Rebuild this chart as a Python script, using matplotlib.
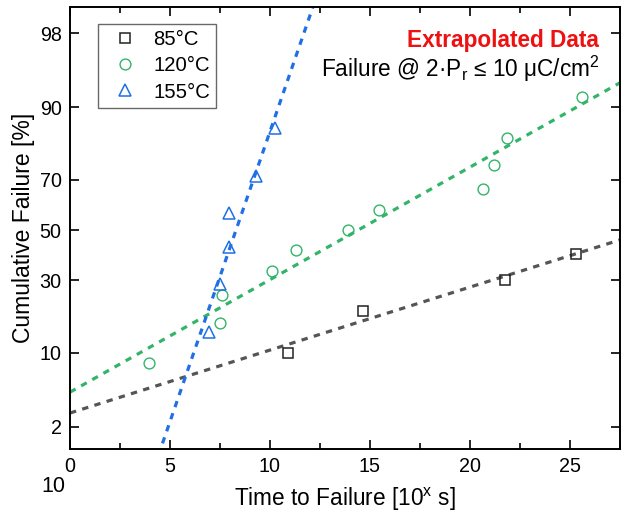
import numpy as np
import matplotlib
matplotlib.use("Agg")
import matplotlib.pyplot as plt
from matplotlib.ticker import FixedLocator, FixedFormatter, MultipleLocator, NullLocator
from statistics import NormalDist

plt.rcParams['font.family'] = ['Liberation Sans', 'DejaVu Sans']
plt.rcParams['mathtext.fontset'] = 'custom'
plt.rcParams['mathtext.rm'] = 'Liberation Sans'
plt.rcParams['mathtext.it'] = 'Liberation Sans:italic'

# ---- data: log10(time to failure) and cumulative failure [%] ----
x_85 = [10.89, 14.64, 21.76, 25.28]
p_85 = [10.0, 20.0, 30.0, 40.0]

x_120 = [3.96, 7.52, 7.62, 10.09, 11.31, 13.89, 15.43, 20.66, 21.19, 21.84, 25.61]
p_120 = [8.3, 16.7, 25.0, 33.3, 41.7, 50.0, 58.3, 66.7, 75.0, 83.3, 91.7]

x_155 = [6.95, 7.49, 7.95, 7.95, 9.32, 10.23]
p_155 = [14.3, 28.6, 42.9, 57.1, 71.4, 85.7]

# fitted lines: (x, cumulative failure [%]) at both ends
fit_85_x = [0.0, 27.5]
fit_85_p = [2.80, 45.9]
fit_120_x = [0.0, 27.5]
fit_120_p = [4.52, 93.8]
fit_155_x = [4.0, 13.0]
fit_155_p = [0.457, 99.78]

y_ticks = [2, 10, 30, 50, 70, 90, 98]
x_ticks = [0, 5, 10, 15, 20, 25]

_nd = NormalDist()


def probit(p):
    p = np.clip(np.asarray(p, dtype=float), 1e-6, 100 - 1e-6) / 100.0
    return np.vectorize(_nd.inv_cdf, otypes=[float])(p)


def inv_probit(z):
    z = np.asarray(z, dtype=float)
    return np.vectorize(_nd.cdf, otypes=[float])(z) * 100.0


c_gray = '#555555'
c_green = '#33b46a'
c_blue = '#1f6fe6'

fig = plt.figure(figsize=(6.29, 5.18), dpi=100)
ax = fig.add_axes([70 / 629, 1 - 449 / 518, 550 / 629, 441.7 / 518])
ax.set_yscale('function', functions=(probit, inv_probit))

ls = (0, (2, 2))
ax.plot(fit_85_x, fit_85_p, color=c_gray, lw=2.3, ls=ls, dash_capstyle='butt', zorder=2)
ax.plot(fit_120_x, fit_120_p, color=c_green, lw=2.3, ls=ls, dash_capstyle='butt', zorder=2)
ax.plot(fit_155_x, fit_155_p, color=c_blue, lw=2.3, ls=ls, dash_capstyle='butt', zorder=2)

ax.plot(x_85, p_85, ls='none', marker='s', ms=7.2, mfc='none', mec='#222222', mew=1.1,
        label='85\u00b0C', zorder=3)
ax.plot(x_120, p_120, ls='none', marker='o', ms=7.8, mfc='none', mec=c_green, mew=1.0,
        label='120\u00b0C', zorder=3)
ax.plot(x_155, p_155, ls='none', marker='^', ms=8.8, mfc='none', mec=c_blue, mew=1.1,
        label='155\u00b0C', zorder=3)

ax.set_xlim(0, 27.5)
ax.set_ylim(1.11, 99.0)

ax.yaxis.set_major_locator(FixedLocator(y_ticks))
ax.yaxis.set_major_formatter(FixedFormatter([str(t) for t in y_ticks]))
ax.yaxis.set_minor_locator(NullLocator())
ax.xaxis.set_major_locator(FixedLocator(x_ticks))
ax.xaxis.set_minor_locator(MultipleLocator(2.5))

ax.tick_params(which='both', direction='in', top=True, right=True, labelsize=14.2,
               width=1.2, colors='black')
ax.tick_params(which='major', length=6.5, pad=6)
ax.tick_params(which='minor', length=4)
for s in ax.spines.values():
    s.set_linewidth(1.4)

ax.set_xlabel('Time to Failure [10$^\\mathregular{x}$ s]', fontsize=16.3, labelpad=7)
ax.set_ylabel('Cumulative Failure [%]', fontsize=16.5, labelpad=3)

leg = ax.legend(loc='upper left', bbox_to_anchor=(0.0515, 0.9615), fontsize=14.6,
                frameon=True, fancybox=False, borderpad=0.3, handletextpad=0.4,
                labelspacing=0.35, handlelength=2.0, borderaxespad=0)
leg.get_frame().set_edgecolor('#444444')
leg.get_frame().set_linewidth(1.0)

ax.text(0.962, 0.911, 'Extrapolated Data', transform=ax.transAxes, ha='right', va='baseline',
        color='#ee1111', fontsize=16.3, fontweight='bold')
ax.text(0.962, 0.843, 'Failure @ 2\u00b7P$_\\mathregular{r}$ \u2264 10 \u03bcC/cm$^\\mathregular{2}$',
        transform=ax.transAxes, ha='right', va='baseline', fontsize=16.3)

fig.text(53.5 / 629, 1 - 492 / 518, '10', ha='center', va='baseline', fontsize=15.5)

fig.savefig('out.png', dpi=100)
